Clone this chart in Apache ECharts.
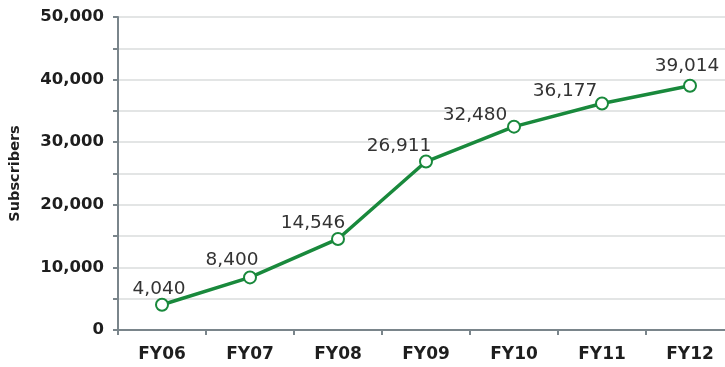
<!DOCTYPE html>
<html>
<head>
<meta charset="utf-8">
<script src="https://cdn.jsdelivr.net/npm/echarts@6/dist/echarts.min.js"></script>
<style>
  html, body { margin: 0; padding: 0; background: #ffffff; }
  #chart { width: 725px; height: 367px; }
</style>
</head>
<body>
<div id="chart"></div>
<script>
// Fiscal years and subscriber counts
const years = ['FY06', 'FY07', 'FY08', 'FY09', 'FY10', 'FY11', 'FY12'];
const subscribers = [4040, 8400, 14546, 26911, 32480, 36177, 39014];
// Where each value label sits relative to its point [dx, dy]
const labelOffsets = [[-3, 6], [-18, 4], [-25, 6], [-27, 6], [-39, 10], [-37, 9], [-3, 2]];

const fmt = v => v.toLocaleString('en-US');

const chart = echarts.init(document.getElementById('chart'));
chart.setOption({
  animation: false,
  grid: { left: 118, top: 17, right: -9, bottom: 37, containLabel: false, outerBoundsMode: 'none' },
  xAxis: {
    type: 'category',
    data: years,
    boundaryGap: true,
    axisLine: { lineStyle: { color: '#7a858b', width: 2 } },
    axisTick: { show: true, length: 5, lineStyle: { color: '#7a858b', width: 2 } },
    axisLabel: {
      margin: 16,
      color: '#1e1e1e',
      fontFamily: 'DejaVu Sans',
      fontWeight: 'bold',
      fontSize: 17
    },
    splitLine: { show: false }
  },
  yAxis: {
    type: 'value',
    min: 0,
    max: 50000,
    interval: 5000,
    name: 'Subscribers',
    nameLocation: 'middle',
    nameRotate: 90,
    nameGap: 95,
    nameTextStyle: {
      color: '#1e1e1e',
      fontFamily: 'DejaVu Sans',
      fontWeight: 'bold',
      fontSize: 14.5
    },
    axisLine: { show: true, lineStyle: { color: '#7a858b', width: 2 } },
    axisTick: { show: true, length: 5, lineStyle: { color: '#7a858b', width: 2 } },
    axisLabel: {
      margin: 14,
      color: '#1e1e1e',
      fontFamily: 'DejaVu Sans',
      fontWeight: 'bold',
      fontSize: 16.5,
      formatter: v => (v % 10000 === 0 ? fmt(v) : '')
    },
    splitLine: { show: true, lineStyle: { color: '#dadddd', width: 1.5 } }
  },
  series: [{
    type: 'line',
    data: subscribers.map((v, i) => ({
      value: v,
      label: { offset: labelOffsets[i] }
    })),
    symbol: 'circle',
    symbolSize: 12,
    lineStyle: { color: '#19893c', width: 3.5 },
    itemStyle: { color: '#ffffff', borderColor: '#19893c', borderWidth: 2 },
    label: {
      show: true,
      position: 'top',
      distance: 5,
      color: '#333333',
      fontFamily: 'DejaVu Sans',
      fontSize: 18.5,
      formatter: p => fmt(p.value)
    }
  }]
});
</script>
</body>
</html>
